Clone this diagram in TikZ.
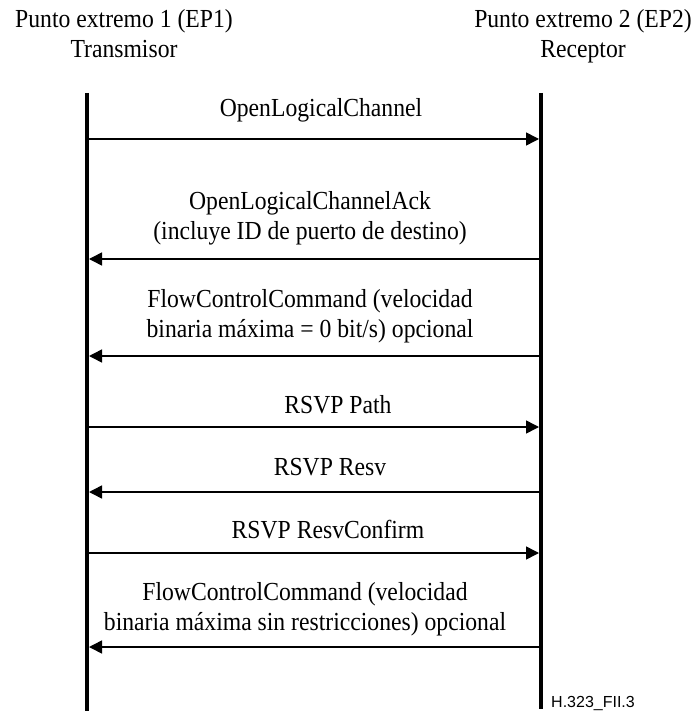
\documentclass[tikz,border=0pt]{standalone}
\usepackage{fontspec}
\setmainfont{Liberation Serif}[FakeStretch=0.91]
\newfontfamily\figfont{Liberation Sans}
\usetikzlibrary{arrows.meta,positioning}

\begin{document}
\begin{tikzpicture}[
  x=1pt, y=-1pt,
  every node/.style={font=\fontsize{26}{30}\selectfont, inner sep=0pt},
  lifeline/.style={line width=4pt},
  msgarrow/.style={line width=1.5pt,-{Triangle[length=13pt,width=13pt]}},
  msglabel/.style={align=center, anchor=base},
]
  \useasboundingbox (0,0) rectangle (692,711);

  % Endpoints (base = last line)
  \node[msglabel] (ep1) at (124,58) {Punto extremo 1 (EP1)\\Transmisor\hspace{36pt}};
  \node[msglabel] (ep2) at (583,58) {Punto extremo 2 (EP2)\\Receptor\hspace{40pt}};

  % Lifelines
  \coordinate (ep1top) at (87,93);
  \coordinate (ep1bot) at (87,711);
  \coordinate (ep2top) at (541,93);
  \coordinate (ep2bot) at (541,709);
  \draw[lifeline] (ep1top) -- (ep1bot);
  \draw[lifeline] (ep2top) -- (ep2bot);

  % Message 1
  \coordinate (a1) at (89,139);
  \coordinate (b1) at (539,139);
  \draw[msgarrow] (a1) -- (b1);
  \node[msglabel] (m1) at (321,117) {OpenLogicalChannel};

  % Message 2
  \coordinate (a2) at (89,259);
  \coordinate (b2) at (539,259);
  \draw[msgarrow] (b2) -- (a2);
  \node[msglabel] (m2) at (310,240) {OpenLogicalChannelAck\hspace{36pt}\\(incluye ID de puerto de destino)};

  % Message 3
  \coordinate (a3) at (89,356);
  \coordinate (b3) at (539,356);
  \draw[msgarrow] (b3) -- (a3);
  \node[msglabel] (m3) at (310,337) {FlowControlCommand (velocidad\\binaria máxima = 0 bit/s) opcional};

  % Message 4
  \coordinate (a4) at (89,427);
  \coordinate (b4) at (539,427);
  \draw[msgarrow] (a4) -- (b4);
  \node[msglabel] (m4) at (338,413) {RSVP Path};

  % Message 5
  \coordinate (a5) at (89,492);
  \coordinate (b5) at (539,492);
  \draw[msgarrow] (b5) -- (a5);
  \node[msglabel] (m5) at (330,475) {RSVP Resv};

  % Message 6
  \coordinate (a6) at (89,553);
  \coordinate (b6) at (539,553);
  \draw[msgarrow] (a6) -- (b6);
  \node[msglabel] (m6) at (328,538) {RSVP ResvConfirm};

  % Message 7
  \coordinate (a7) at (89,647);
  \coordinate (b7) at (539,647);
  \draw[msgarrow] (b7) -- (a7);
  \node[msglabel] (m7) at (305,630) {FlowControlCommand (velocidad\\binaria máxima sin restricciones) opcional};

  % Figure tag
  \node[anchor=base west,font=\figfont\fontsize{16}{18}\selectfont] (tag) at (551,707) {H.323\_FII.3};
\end{tikzpicture}
\end{document}
